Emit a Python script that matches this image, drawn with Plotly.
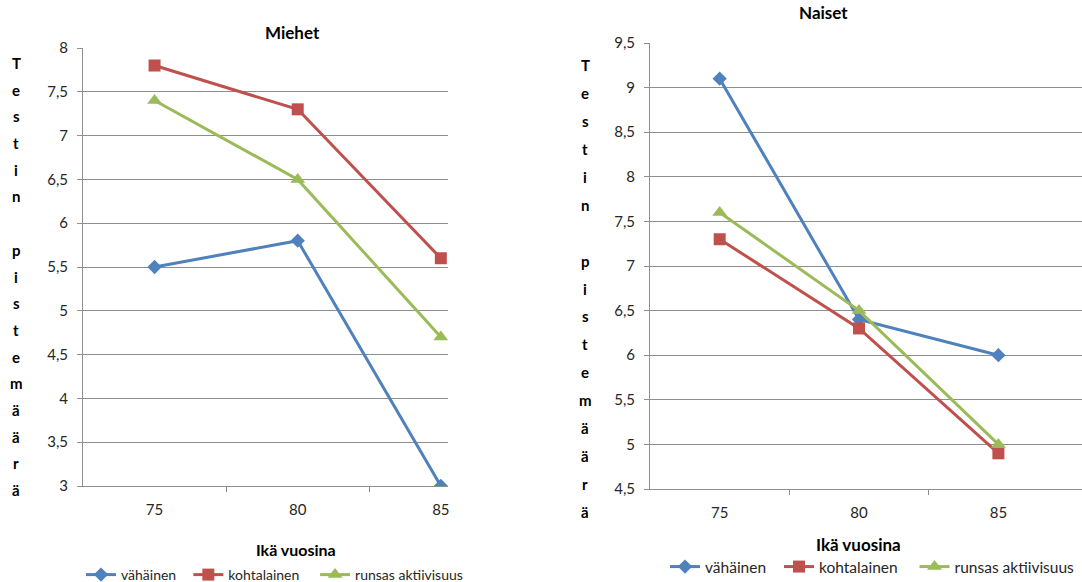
import plotly.graph_objects as go

W, H = 1082, 582

ages = ["75", "80", "85"]
series_names = ["vähäinen", "kohtalainen", "runsas aktiivisuus"]

miehet_vahainen = [5.5, 5.8, 3.0]
miehet_kohtalainen = [7.8, 7.3, 5.6]
miehet_runsas = [7.4, 6.5, 4.7]

naiset_vahainen = [9.1, 6.4, 6.0]
naiset_kohtalainen = [7.3, 6.3, 4.9]
naiset_runsas = [7.6, 6.5, 5.0]

y_title = "Testin pistemäärä"
x_title = "Ikä vuosina"

colors = ["#4F81BD", "#C0504D", "#9BBB59"]
symbols = ["diamond", "square", "triangle-up"]
msizes = [11, 12, 13]
# extra spacing after each legend entry (non-breaking spaces)
legend_pad = [2, 3, 0]

FONT = "Lato, Carlito, Calibri, sans-serif"
GRID = "#8E8E8E"
TXT = "#262626"


def px_x(p):
    return p / W


def px_y(p):
    return (H - p) / H


fig = go.Figure()

panels = [
    dict(name="Miehet", data=[miehet_vahainen, miehet_kohtalainen, miehet_runsas],
         xax="x", yax="y", legend="legend"),
    dict(name="Naiset", data=[naiset_vahainen, naiset_kohtalainen, naiset_runsas],
         xax="x2", yax="y2", legend="legend2"),
]

xpos = list(range(len(ages)))
for p in panels:
    for i, vals in enumerate(p["data"]):
        fig.add_trace(go.Scatter(
            x=xpos, y=vals,
            name=series_names[i] + "\u00a0" * legend_pad[i],
            mode="lines+markers",
            line=dict(color=colors[i], width=3),
            marker=dict(symbol=symbols[i], size=msizes[i], color=colors[i]),
            xaxis=p["xax"], yaxis=p["yax"], legend=p["legend"],
        ))

common_y = dict(showgrid=True, gridcolor=GRID, gridwidth=1, showline=True,
                linecolor=GRID, linewidth=1, ticks="outside", ticklen=5,
                tickcolor=GRID, dtick=0.5, tickformat=".1~f",
                tickfont=dict(family=FONT, size=15, color=TXT),
                ticklabelstandoff=6, zeroline=False)
common_x = dict(tickvals=xpos, ticktext=ages, showgrid=False, showline=True,
                linecolor=GRID, linewidth=1, ticks="",
                minor=dict(tickvals=[0.5, 1.5], ticks="outside", ticklen=5,
                           tickcolor=GRID),
                tickfont=dict(family=FONT, size=15, color=TXT),
                ticklabelstandoff=10, zeroline=False)

fig.update_layout(
    width=W, height=H,
    margin=dict(l=0, r=0, t=0, b=0, autoexpand=False),
    paper_bgcolor="white", plot_bgcolor="white",
    separators=", ",
    xaxis=dict(common_x, domain=[px_x(83), px_x(448)], range=[-0.5, 2.05],
               anchor="y"),
    yaxis=dict(common_y, domain=[px_y(486), px_y(48)], range=[3, 8],
               anchor="x"),
    xaxis2=dict(common_x, domain=[px_x(650), 1.0], range=[-0.5, 2.6],
                anchor="y2"),
    yaxis2=dict(common_y, domain=[px_y(489), px_y(43)], range=[4.5, 9.5],
                anchor="x2"),
    legend=dict(orientation="h", x=px_x(81), y=px_y(559), xanchor="left",
                yanchor="top", font=dict(family=FONT, size=14, color=TXT),
                bgcolor="rgba(0,0,0,0)", itemwidth=30),
    legend2=dict(orientation="h", x=px_x(665), y=px_y(550), xanchor="left",
                 yanchor="top", font=dict(family=FONT, size=15.5, color=TXT),
                 bgcolor="rgba(0,0,0,0)", itemwidth=30),
)


def label(text, x, y, size, bold=True):
    fig.add_annotation(text=("<b>" + text + "</b>") if bold else text,
                       x=px_x(x), y=px_y(y), xref="paper", yref="paper",
                       xanchor="center", yanchor="middle", showarrow=False,
                       font=dict(family=FONT, size=size, color="black"))


# Panel titles
label("Miehet", 292, 32, 17)
label("Naiset", 823, 12, 17)

# X axis titles
label(x_title, 296, 549, 16)
label(x_title, 859, 544, 17)

# Y axis titles, one letter per line
letters = list(y_title)
for cx, top, bottom in [(16, 63, 490), (585, 65, 512)]:
    step = (bottom - top) / (len(letters) - 1)
    for k, ch in enumerate(letters):
        if ch != " ":
            label(ch, cx, top + k * step, 15)

fig.write_html("out.html")
